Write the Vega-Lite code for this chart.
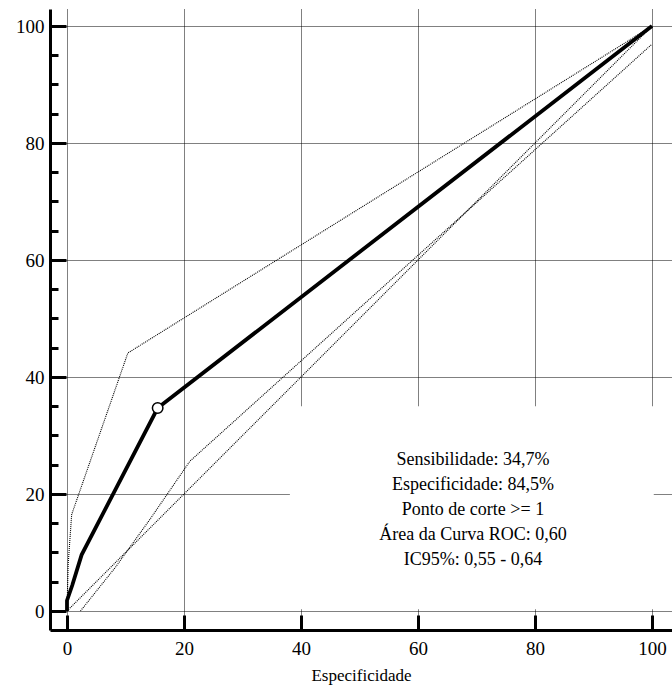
{
  "$schema": "https://vega.github.io/schema/vega-lite/v6.json",
  "width": 622,
  "height": 621,
  "autosize": "none",
  "padding": {"left": 50, "top": 9, "right": 0, "bottom": 65},
  "background": "white",
  "config": {
    "view": {"stroke": null},
    "style": {"guide-label": {"font": "Liberation Serif"}, "guide-title": {"font": "Liberation Serif"}},
    "axis": {
      "domainColor": "#000",
      "domainWidth": 3,
      "tickColor": "#000",
      "tickWidth": 3,
      "labelColor": "#000",
      "labelFont": "Liberation Serif",
      "labelFontSize": 19,
      "titleFont": "Liberation Serif",
      "titleFontSize": 17,
      "titleFontWeight": "normal",
      "titleColor": "#000",
      "gridColor": "#000",
      "gridDash": [1, 1],
      "gridWidth": 1,
      "gridOpacity": 1
    }
  },
  "datasets": {
    "curves": [
      {"serie": "ROC", "ordem": 1, "fpr": 0, "tpr": 0},
      {"serie": "ROC", "ordem": 2, "fpr": 0, "tpr": 1.8},
      {"serie": "ROC", "ordem": 3, "fpr": 0.9, "tpr": 4.4},
      {"serie": "ROC", "ordem": 4, "fpr": 2.5, "tpr": 9.6},
      {"serie": "ROC", "ordem": 5, "fpr": 15.5, "tpr": 34.7},
      {"serie": "ROC", "ordem": 6, "fpr": 100, "tpr": 100},
      {"serie": "IC superior", "ordem": 1, "fpr": 0, "tpr": 0},
      {"serie": "IC superior", "ordem": 2, "fpr": 0.2, "tpr": 8},
      {"serie": "IC superior", "ordem": 3, "fpr": 0.8, "tpr": 16.5},
      {"serie": "IC superior", "ordem": 4, "fpr": 10.4, "tpr": 44.1},
      {"serie": "IC superior", "ordem": 5, "fpr": 100, "tpr": 100},
      {"serie": "IC inferior", "ordem": 1, "fpr": 2.3, "tpr": 0},
      {"serie": "IC inferior", "ordem": 2, "fpr": 8.3, "tpr": 7.5},
      {"serie": "IC inferior", "ordem": 3, "fpr": 14.2, "tpr": 15.7},
      {"serie": "IC inferior", "ordem": 4, "fpr": 21, "tpr": 25.6},
      {"serie": "IC inferior", "ordem": 5, "fpr": 100, "tpr": 96.9},
      {"serie": "Diagonal", "ordem": 1, "fpr": 0, "tpr": 0},
      {"serie": "Diagonal", "ordem": 2, "fpr": 100, "tpr": 100}
    ],
    "corte": [
      {"fpr": 15.5, "tpr": 34.7}
    ]
  },
  "resolve": {"axis": {"y": "independent"}},
  "layer": [
    {
      "data": {"name": "curves"},
      "transform": [{"filter": "datum.serie !== 'ROC'"}],
      "mark": {"type": "line", "color": "#000", "strokeWidth": 1.1, "strokeDash": [1, 1]},
      "encoding": {
        "x": {
          "field": "fpr", "type": "quantitative",
          "scale": {"domain": [-2.905982906, 103.418803419], "nice": false, "zero": false},
          "axis": {
            "values": [0, 20, 40, 60, 80, 100],
            "title": "Especificidade",
            "labelFont": "Liberation Serif",
            "titleFont": "Liberation Serif",
            "tickSize": -15,
            "labelPadding": 24,
            "titlePadding": 9,
            "grid": true,
            "encode": {"labels": {"update": {"font": {"value": "Liberation Serif"}}}}
          }
        },
        "y": {
          "field": "tpr", "type": "quantitative",
          "scale": {"domain": [-3.247863248, 102.905982906], "nice": false, "zero": false},
          "axis": {
            "values": [0, 20, 40, 60, 80, 100],
            "title": null,
            "labelFont": "Liberation Serif",
            "tickSize": -16,
            "labelPadding": 22,
            "grid": true,
            "encode": {"labels": {"update": {"font": {"value": "Liberation Serif"}}}}
          }
        },
        "detail": {"field": "serie"},
        "order": {"field": "ordem"}
      }
    },
    {
      "data": {"values": [{"caixa": 1}]},
      "mark": {"type": "rect", "fill": "white", "stroke": null},
      "encoding": {
        "x": {"datum": 38.1, "type": "quantitative"},
        "x2": {"datum": 100.3},
        "y": {
          "datum": 0.3, "type": "quantitative",
          "axis": {
            "values": [5, 10, 15, 25, 30, 35, 45, 50, 55, 65, 70, 75, 85, 90, 95],
            "orient": "left",
            "labels": false,
            "domain": false,
            "grid": false,
            "title": null,
            "tickSize": -8
          }
        },
        "y2": {"datum": 35}
      }
    },
    {
      "data": {"name": "curves"},
      "transform": [{"filter": "datum.serie === 'ROC'"}],
      "mark": {"type": "line", "color": "#000", "strokeWidth": 3.8, "strokeJoin": "miter"},
      "encoding": {
        "x": {"field": "fpr", "type": "quantitative"},
        "y": {"field": "tpr", "type": "quantitative", "axis": null},
        "order": {"field": "ordem"}
      }
    },
    {
      "data": {"name": "corte"},
      "mark": {"type": "point", "shape": "circle", "filled": true, "fill": "white", "stroke": "#000", "strokeWidth": 1.5, "size": 110, "opacity": 1},
      "encoding": {
        "x": {"field": "fpr", "type": "quantitative"},
        "y": {"field": "tpr", "type": "quantitative", "axis": null}
      }
    },
    {
      "data": {"values": [{"texto": "Sensibilidade: 34,7%\nEspecificidade: 84,5%\nPonto de corte >= 1\nÁrea da Curva ROC: 0,60\nIC95%: 0,55 - 0,64"}]},
      "mark": {"type": "text", "font": "Liberation Serif", "fontSize": 18, "color": "#000", "align": "center", "baseline": "middle", "lineBreak": "\n", "lineHeight": 25},
      "encoding": {
        "x": {"datum": 69.4, "type": "quantitative"},
        "y": {"datum": 25.75, "type": "quantitative", "axis": null},
        "text": {"field": "texto"}
      }
    }
  ]
}
